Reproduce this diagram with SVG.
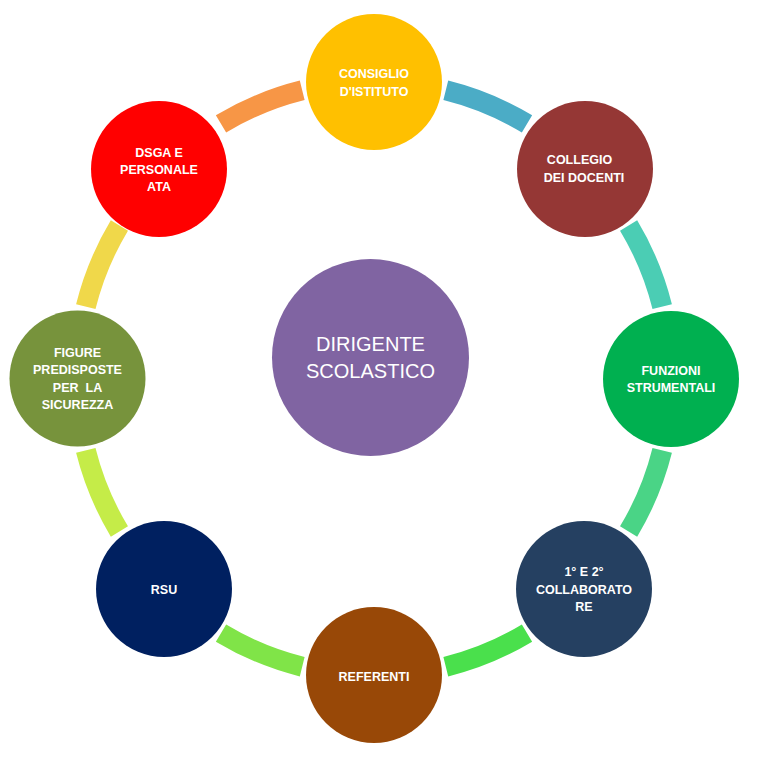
<svg xmlns="http://www.w3.org/2000/svg" width="776" height="759" viewBox="0 0 776 759">
<style>
  .arc { fill: none; stroke-width: 20; stroke-linecap: butt; }
  .lbl { font-family: "Liberation Sans", Arial, sans-serif; font-size: 12.5px; font-weight: bold; fill: #ffffff; text-anchor: middle; }
  .main { font-family: "Liberation Sans", Arial, sans-serif; font-size: 20px; fill: #ffffff; text-anchor: middle; }
</style>
<rect width="776" height="759" fill="#ffffff"/>
<g id="connectors">
  <path class="arc" stroke="#F79646" d="M 221.0 123.9 A 297 297 0 0 1 302.2 90.3"/>
  <path class="arc" stroke="#4BACC6" d="M 445.8 90.3 A 297 297 0 0 1 527.0 123.9"/>
  <path class="arc" stroke="#4BCDB4" d="M 628.6 225.5 A 297 297 0 0 1 662.2 306.6"/>
  <path class="arc" stroke="#4AD486" d="M 662.2 450.4 A 297 297 0 0 1 628.6 531.5"/>
  <path class="arc" stroke="#4AE04C" d="M 527.0 633.1 A 297 297 0 0 1 445.8 666.7"/>
  <path class="arc" stroke="#80E448" d="M 302.2 666.7 A 297 297 0 0 1 221.0 633.1"/>
  <path class="arc" stroke="#C5EC48" d="M 119.4 531.5 A 297 297 0 0 1 85.8 450.4"/>
  <path class="arc" stroke="#F0D84A" d="M 85.8 306.6 A 297 297 0 0 1 119.4 225.5"/>
</g>
<g id="dirigente">
  <circle cx="370.5" cy="357.5" r="98.5" fill="#8064A2"/>
  <text class="main" x="370.5" y="351">DIRIGENTE</text>
  <text class="main" x="370.5" y="378">SCOLASTICO</text>
</g>
<g id="consiglio">
  <circle cx="374" cy="82" r="68" fill="#FFC000"/>
  <text class="lbl" x="374" y="78">CONSIGLIO</text>
  <text class="lbl" x="374" y="96">D'ISTITUTO</text>
</g>
<g id="collegio">
  <circle cx="585" cy="169" r="68" fill="#953735"/>
  <text class="lbl" x="579.5" y="164">COLLEGIO</text>
  <text class="lbl" x="584" y="182">DEI DOCENTI</text>
</g>
<g id="funzioni">
  <circle cx="671" cy="379" r="68" fill="#00B050"/>
  <text class="lbl" x="671" y="375">FUNZIONI</text>
  <text class="lbl" x="671" y="392">STRUMENTALI</text>
</g>
<g id="collaboratore">
  <circle cx="584" cy="589" r="68" fill="#254061"/>
  <text class="lbl" x="584" y="576">1° E 2°</text>
  <text class="lbl" x="584" y="594">COLLABORATO</text>
  <text class="lbl" x="584" y="611">RE</text>
</g>
<g id="referenti">
  <circle cx="374" cy="675" r="68" fill="#984807"/>
  <text class="lbl" x="374" y="681">REFERENTI</text>
</g>
<g id="rsu">
  <circle cx="164" cy="589" r="68" fill="#002060"/>
  <text class="lbl" x="164" y="594">RSU</text>
</g>
<g id="figure">
  <circle cx="77.5" cy="378.5" r="68" fill="#77933C"/>
  <text class="lbl" x="77.5" y="357">FIGURE</text>
  <text class="lbl" x="77.5" y="374">PREDISPOSTE</text>
  <text class="lbl" x="77.5" y="392">PER&#160; LA</text>
  <text class="lbl" x="77.5" y="409">SICUREZZA</text>
</g>
<g id="dsga">
  <circle cx="159" cy="169" r="68" fill="#FF0000"/>
  <text class="lbl" x="159" y="157">DSGA E</text>
  <text class="lbl" x="159" y="174">PERSONALE</text>
  <text class="lbl" x="159" y="191">ATA</text>
</g>
</svg>
